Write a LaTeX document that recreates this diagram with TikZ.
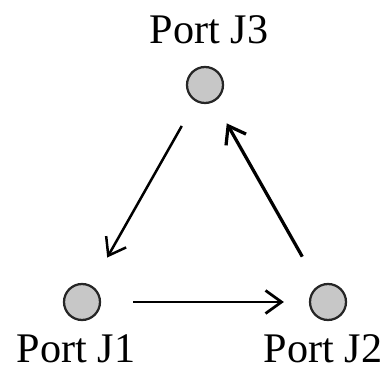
\documentclass[tikz,border=0pt]{standalone}
\usepackage{fontspec}
\setmainfont{Liberation Serif}
\usetikzlibrary{positioning,arrows.meta}

\tikzset{
  port/.style={circle, draw=black!85, fill=black!22, line width=0.45mm, minimum size=7.2mm, inner sep=0pt},
  portlabel/.style={anchor=base, inner sep=0pt, font=\fontsize{24}{28}\selectfont},
  link/.style={-{Straight Barb[length=3.2mm,width=4.6mm]}, line width=0.5mm}
}

\begin{document}
\begin{tikzpicture}[x=0.2mm, y=-0.2mm]
        \useasboundingbox (0,0) rectangle (386,369);
        % Ports
        \node[port] (J1) at (82,302) {};
        \node[port] (J2) at (328,302) {};
        \node[port] (J3) at (205,85) {};

        % Labels
        \node[portlabel] (L3) at (209,44) {Port J3};
        \node[portlabel] (L1) at (76,362) {Port J1};
        \node[portlabel] (L2) at (323,362) {Port J2};

        % Arrows
        \draw[link, shorten <=5.6mm, shorten >=6.4mm] (J3) -- (J1);
        \draw[link, line width=0.55mm, shorten <=6.4mm, shorten >=5.0mm] (J1) -- (J2);
        \draw[link, line width=0.65mm, shorten <=6.6mm, shorten >=5.0mm] (J2) -- (J3);
    \end{tikzpicture}
\end{document}
